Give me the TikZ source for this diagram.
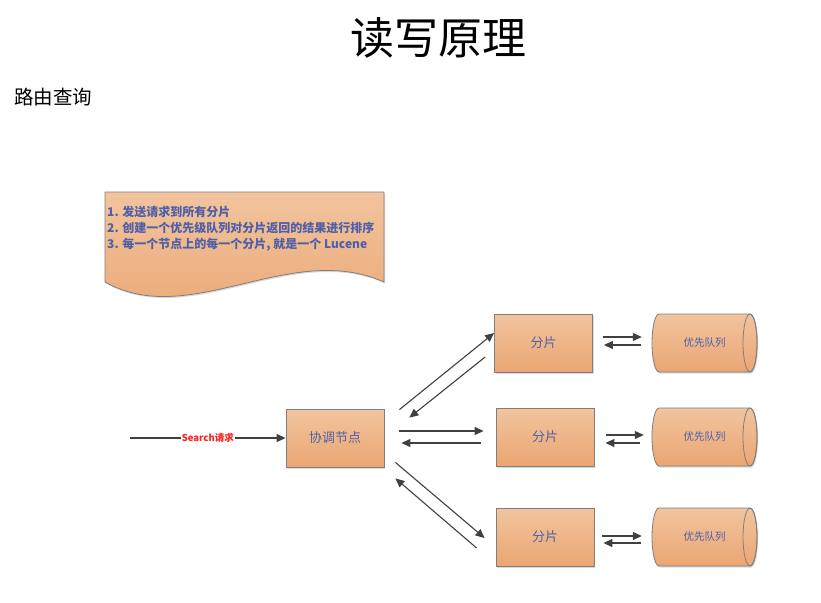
\documentclass[tikz,border=0pt]{standalone}
\usepackage{fontspec}
\setmainfont{Noto Sans CJK SC}
\usetikzlibrary{shadows,arrows.meta,calc}
\definecolor{boxtop}{HTML}{F2C49E}
\definecolor{boxbot}{HTML}{EAA672}
\definecolor{edgegray}{HTML}{7F7F7F}
\definecolor{txtblue}{HTML}{4F5FA8}
\definecolor{linegray}{HTML}{404040}
\definecolor{reqred}{HTML}{FF2020}
\newcommand{\drawqueue}[2]{%
  \path[qbody] (#1+7,#2) -- (#1+98,#2)
    arc[start angle=-90,end angle=90,x radius=7,y radius=29]
    -- (#1+7,#2+58)
    arc[start angle=90,end angle=270,x radius=7,y radius=29] -- cycle;
  \draw[draw=edgegray,line width=0.8pt] (#1+98,#2+29) ellipse[x radius=7,y radius=29];}
\begin{document}
\begin{tikzpicture}[x=1pt,y=-1pt,
  shade/.style={top color=boxtop,bottom color=boxbot,
    drop shadow={shadow xshift=1.2pt,shadow yshift=-1.5pt,opacity=0.3}},
  orbox/.style={shade,draw=edgegray,line width=0.8pt,minimum width=98pt,
    minimum height=58pt,inner sep=0pt,text=txtblue,font=\fontsize{13}{15}\selectfont},
  qbody/.style={shade,draw=edgegray,line width=0.8pt},
  qtext/.style={minimum width=105pt,minimum height=58pt,inner sep=0pt,
    text=txtblue,font=\fontsize{10.5}{12}\selectfont},
  arr/.style={draw=linegray,line width=1.1pt,-{Triangle[length=9pt,width=8pt]}}]
\useasboundingbox[fill=white] (0,0) rectangle (821,602);

% titles
\node[font=\fontsize{44}{48}\selectfont] (title) at (438,38) {读写原理};
\node[anchor=west,font=\fontsize{19.5}{22}\selectfont,inner sep=0pt] (sub) at (14,97) {路由查询};

% document note
\path[qbody] (105,192) -- (384,192) -- (384,282)
  .. controls (290,240) and (190,330) .. (105,282) -- cycle;
\node[anchor=north west,align=left,text=txtblue,inner sep=0pt,
  font=\fontsize{12}{16}\selectfont\bfseries] (note) at (107,206)
  {1. 发送请求到所有分片\\2. 创建一个优先级队列对分片返回的结果进行排序\\3. 每一个节点上的每一个分片, 就是一个 Lucene};

% nodes
\node[orbox] (coord) at (335,438) {协调节点};
\node[orbox] (s1) at (543.5,343) {分片};
\node[orbox] (s2) at (545,437) {分片};
\node[orbox] (s3) at (545,537) {分片};

\drawqueue{652}{314}
\drawqueue{652}{408}
\drawqueue{652}{508}
\node[qtext] (q1) at (704.5,343) {优先队列};
\node[qtext] (q2) at (704.5,437) {优先队列};
\node[qtext] (q3) at (704.5,537) {优先队列};

% search request
\coordinate (src) at (130,438);
\draw[arr] (src) -- node[fill=white,inner sep=1pt,text=reqred,
  font=\fontsize{9.5}{10}\selectfont\bfseries] (req) {Search请求} (coord.west);

% coordinator <-> shards
\draw[arr] ($(coord.north east)+(15,1)$) -- ($(s1.west)+(0,-10)$);
\draw[arr] ($(s1.west)+(-9,14)$) -- ($(coord.north east)+(25,9)$);
\draw[arr] ($(coord.east)+(15,-7)$) -- ($(s2.west)+(-12,-6)$);
\draw[arr] ($(s2.west)+(-15,6)$) -- ($(coord.east)+(17,5)$);
\draw[arr] ($(coord.south east)+(11,-5)$) -- ($(s3.west)+(-11,1)$);
\draw[arr] ($(s3.west)+(-19,11)$) -- ($(coord.south east)+(11,11)$);

% shards <-> queues
\draw[arr] ($(s1.east)+(10,-6)$) -- ($(q1.west)+(-10,-6)$);
\draw[arr] ($(q1.west)+(-11,2)$) -- ($(s1.east)+(11,2)$);
\draw[arr] ($(s2.east)+(12,-2)$) -- ($(q2.west)+(-8,-2)$);
\draw[arr] ($(q2.west)+(-12,6)$) -- ($(s2.east)+(11,6)$);
\draw[arr] ($(s3.east)+(8,-1)$) -- ($(q3.west)+(-10,-1)$);
\draw[arr] ($(q3.west)+(-11,6)$) -- ($(s3.east)+(9,6)$);
\end{tikzpicture}
\end{document}
